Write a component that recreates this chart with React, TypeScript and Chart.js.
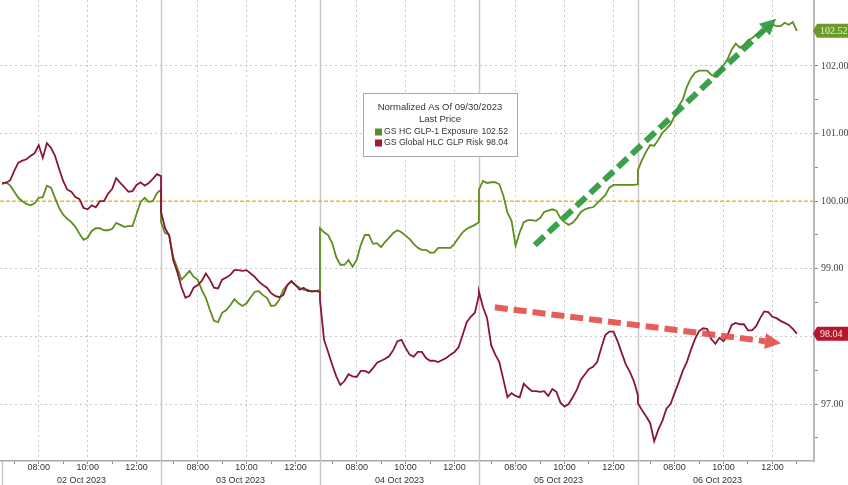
import React, { useEffect, useRef } from "react";
import { Chart, registerables } from "chart.js";

Chart.register(...registerables);

// ---- axis / time structure (trading minutes, session 06:30-13:00) ----
const SESSION = 390;
const OPEN_MIN = 390; // 06:30 in minutes after midnight
const STEP = 10; // minutes between samples
const X_MIN = -5;
const X_MAX = 1992;
const Y_MIN = 96.157;
const Y_MAX = 102.976;
const BASELINE = 100;

const dayLabels = ["02 Oct 2023", "03 Oct 2023", "04 Oct 2023", "05 Oct 2023", "06 Oct 2023"];
const hourTicks = [7, 8, 9, 10, 11, 12];
const labeledHours = [8, 10, 12];
const yTickValues = [96.5, 97, 97.5, 98, 98.5, 99, 99.5, 100, 100.5, 101, 101.5, 102, 102.5];

// ---- series values, one sample every 10 minutes from 06:30 to 13:00 ----
const greenOct02 = [100.25, 100.28, 100.23, 100.14, 100.05, 100.0, 99.96, 99.94, 99.97, 100.05, 100.06, 100.23, 100.2, 100.05, 99.9, 99.8, 99.74, 99.69, 99.62, 99.52, 99.43, 99.46, 99.56, 99.6, 99.6, 99.57, 99.57, 99.59, 99.68, 99.65, 99.62, 99.63, 99.63, 99.81, 99.99, 100.05, 99.99, 100.0, 100.12, 100.17];
const greenOct03 = [99.69, 99.53, 99.51, 99.17, 99.01, 98.84, 98.9, 98.97, 98.88, 98.84, 98.69, 98.57, 98.39, 98.23, 98.21, 98.35, 98.39, 98.46, 98.55, 98.49, 98.45, 98.49, 98.58, 98.66, 98.67, 98.61, 98.57, 98.45, 98.46, 98.54, 98.69, 98.76, 98.81, 98.76, 98.72, 98.69, 98.69, 98.66, 98.67, 98.69];
const greenOct04 = [99.6, 99.54, 99.5, 99.38, 99.17, 99.06, 99.06, 99.13, 99.03, 99.13, 99.35, 99.5, 99.5, 99.37, 99.38, 99.32, 99.4, 99.46, 99.53, 99.57, 99.54, 99.49, 99.44, 99.37, 99.31, 99.28, 99.28, 99.24, 99.24, 99.31, 99.31, 99.31, 99.31, 99.37, 99.46, 99.54, 99.59, 99.62, 99.65, 99.69];
const greenOct05 = [100.17, 100.3, 100.27, 100.28, 100.28, 100.25, 100.08, 99.83, 99.71, 99.34, 99.54, 99.69, 99.72, 99.72, 99.71, 99.75, 99.84, 99.86, 99.88, 99.86, 99.75, 99.69, 99.65, 99.68, 99.75, 99.84, 99.88, 99.9, 99.91, 99.97, 100.03, 100.09, 100.2, 100.24, 100.24, 100.24, 100.24, 100.24, 100.24, 100.25];
const greenOct06 = [100.46, 100.61, 100.73, 100.83, 100.82, 100.91, 101.01, 101.07, 101.14, 101.26, 101.41, 101.5, 101.69, 101.82, 101.9, 101.93, 101.93, 101.93, 101.87, 101.84, 101.91, 102.01, 102.1, 102.24, 102.33, 102.27, 102.31, 102.38, 102.41, 102.46, 102.49, 102.52, 102.58, 102.61, 102.59, 102.59, 102.64, 102.61, 102.65, 102.52];

const redOct02 = [100.27, 100.27, 100.31, 100.45, 100.57, 100.6, 100.62, 100.67, 100.71, 100.83, 100.64, 100.86, 100.79, 100.67, 100.48, 100.3, 100.17, 100.14, 100.06, 100.03, 99.9, 99.88, 99.94, 99.91, 100.0, 100.0, 100.11, 100.18, 100.34, 100.27, 100.21, 100.14, 100.15, 100.24, 100.28, 100.23, 100.27, 100.33, 100.4, 100.37];
const redOct03 = [99.84, 99.6, 99.49, 99.13, 98.95, 98.73, 98.57, 98.6, 98.72, 98.76, 98.82, 98.93, 98.84, 98.72, 98.71, 98.84, 98.87, 98.91, 98.98, 98.98, 98.97, 98.98, 98.93, 98.88, 98.81, 98.76, 98.72, 98.64, 98.6, 98.58, 98.61, 98.76, 98.82, 98.76, 98.69, 98.72, 98.67, 98.67, 98.67, 98.66];
const redOct04 = [98.54, 97.95, 97.77, 97.58, 97.41, 97.28, 97.34, 97.44, 97.41, 97.4, 97.49, 97.49, 97.46, 97.53, 97.61, 97.64, 97.67, 97.71, 97.8, 97.93, 97.95, 97.83, 97.73, 97.7, 97.77, 97.77, 97.68, 97.64, 97.64, 97.62, 97.65, 97.68, 97.73, 97.77, 97.84, 98.02, 98.21, 98.29, 98.35, 98.61];
const redOct05 = [98.66, 98.43, 98.27, 97.87, 97.73, 97.62, 97.36, 97.1, 97.16, 97.12, 97.1, 97.3, 97.24, 97.19, 97.19, 97.18, 97.19, 97.12, 97.22, 97.18, 97.02, 96.96, 97.0, 97.1, 97.21, 97.36, 97.44, 97.52, 97.55, 97.62, 97.83, 98.02, 98.07, 98.07, 97.93, 97.76, 97.59, 97.48, 97.34, 97.13];
const redOct06 = [97.01, 96.91, 96.82, 96.72, 96.45, 96.62, 96.75, 96.93, 97.0, 97.16, 97.32, 97.49, 97.62, 97.8, 97.96, 98.08, 98.12, 98.11, 97.96, 97.89, 97.98, 97.93, 98.02, 98.17, 98.2, 98.18, 98.18, 98.09, 98.09, 98.15, 98.27, 98.37, 98.36, 98.29, 98.27, 98.23, 98.2, 98.17, 98.11, 98.04];

const greenName = "GS HC GLP-1 Exposure";
const redName = "GS Global HLC GLP Risk";
const greenLast = "102.52";
const redLast = "98.04";
const legendTitle = "Normalized As Of 09/30/2023";
const legendSub = "Last Price";

// trend arrows in data units: [trading minute, value]
const greenTrendFrom = [1307, 99.35];
const greenTrendTo = [1899, 102.7];
const redTrendFrom = [1209, 98.43];
const redTrendTo = [1911, 97.9];

const GREEN = "#5e8e1e";
const RED = "#8a1538";

// ---- derived tick tables ----
const xTickValues: number[] = [];
const xTickLabels: string[] = [];
dayLabels.forEach((_, d) => {
  const hours = d === dayLabels.length - 1 ? [...hourTicks, 13] : hourTicks;
  hours.forEach((h) => {
    xTickValues.push(d * SESSION + (h * 60 - OPEN_MIN));
    xTickLabels.push(labeledHours.includes(h) ? `${String(h).padStart(2, "0")}:00` : "");
  });
});
const dayCenters = dayLabels.map((_, d) => d * SESSION + SESSION / 2);
const dayBounds = dayLabels.map((_, d) => d * SESSION);

const toPoints = (days: number[][]) =>
  days.flatMap((vals, d) => vals.map((v, k) => ({ x: d * SESSION + k * STEP, y: v })));

function drawArrow(ctx: CanvasRenderingContext2D, x1: number, y1: number, x2: number, y2: number, color: string) {
  const ang = Math.atan2(y2 - y1, x2 - x1);
  const headLen = 16;
  const headW = 8;
  const bx = x2 - headLen * Math.cos(ang);
  const by = y2 - headLen * Math.sin(ang);
  ctx.save();
  ctx.globalAlpha = 0.92;
  ctx.strokeStyle = color;
  ctx.lineWidth = 6;
  ctx.setLineDash([13, 6]);
  ctx.beginPath();
  ctx.moveTo(x1, y1);
  ctx.lineTo(bx, by);
  ctx.stroke();
  ctx.setLineDash([]);
  ctx.fillStyle = color;
  ctx.beginPath();
  ctx.moveTo(x2, y2);
  ctx.lineTo(bx + headW * Math.sin(ang), by - headW * Math.cos(ang));
  ctx.lineTo(bx - headW * Math.sin(ang), by + headW * Math.cos(ang));
  ctx.closePath();
  ctx.fill();
  ctx.restore();
}

function drawValueBox(ctx: CanvasRenderingContext2D, left: number, right: number, y: number, bg: string, fg: string, text: string) {
  const h = 14;
  ctx.save();
  ctx.fillStyle = bg;
  ctx.beginPath();
  ctx.moveTo(left, y);
  ctx.lineTo(left + 4, y - h / 2);
  ctx.lineTo(right, y - h / 2);
  ctx.lineTo(right, y + h / 2);
  ctx.lineTo(left + 4, y + h / 2);
  ctx.closePath();
  ctx.fill();
  ctx.fillStyle = fg;
  ctx.font = '10px "Liberation Serif"';
  ctx.textAlign = "left";
  ctx.textBaseline = "middle";
  ctx.fillText(text, left + 7, y + 0.5);
  ctx.restore();
}

const annotPlugin = {
  id: "annot",
  beforeDraw(chart: any) {
    const { ctx, width, height } = chart;
    ctx.save();
    ctx.fillStyle = "#ffffff";
    ctx.fillRect(0, 0, width, height);
    ctx.restore();
  },
  beforeDatasetsDraw(chart: any) {
    const { ctx, chartArea, scales, height } = chart;
    const xs = scales.x;
    const ys = scales.y;
    ctx.save();
    ctx.strokeStyle = "#c9c9c9";
    ctx.lineWidth = 1.5;
    dayBounds.forEach((t, d) => {
      const px = Math.round(xs.getPixelForValue(t)) + 0.5;
      ctx.beginPath();
      ctx.moveTo(px, d === 0 ? chartArea.bottom : chartArea.top);
      ctx.lineTo(px, height);
      ctx.stroke();
    });
    const py = ys.getPixelForValue(BASELINE);
    ctx.strokeStyle = "#e9bd1c";
    ctx.lineWidth = 1.5;
    ctx.setLineDash([4, 2]);
    ctx.beginPath();
    ctx.moveTo(chartArea.left, py);
    ctx.lineTo(chartArea.right, py);
    ctx.stroke();
    ctx.restore();
  },
  afterDatasetsDraw(chart: any) {
    const { ctx, scales, chartArea, width } = chart;
    const xs = scales.x;
    const ys = scales.y;
    const P = (p: number[]) => [xs.getPixelForValue(p[0]), ys.getPixelForValue(p[1])];
    const g1 = P(greenTrendFrom), g2 = P(greenTrendTo);
    const r1 = P(redTrendFrom), r2 = P(redTrendTo);
    drawArrow(ctx, r1[0], r1[1], r2[0], r2[1], "#e4504c");
    drawArrow(ctx, g1[0], g1[1], g2[0], g2[1], "#2a9a3c");

    // legend box
    ctx.save();
    const bx = 363, by = 93, bw = 154, bh = 63;
    ctx.fillStyle = "#ffffff";
    ctx.fillRect(bx, by, bw, bh);
    ctx.strokeStyle = "#a9a9a9";
    ctx.lineWidth = 1;
    ctx.strokeRect(bx + 0.5, by + 0.5, bw, bh);
    ctx.fillStyle = "#333333";
    ctx.textBaseline = "middle";
    ctx.textAlign = "center";
    ctx.font = '9.5px "Liberation Sans"';
    ctx.fillText(legendTitle, bx + bw / 2, by + 14);
    ctx.fillText(legendSub, bx + bw / 2, by + 26);
    ctx.font = '8.7px "Liberation Sans"';
    const rows = [
      { c: "#5a8a22", name: greenName, val: greenLast, y: by + 39 },
      { c: "#a11a32", name: redName, val: redLast, y: by + 50 },
    ];
    rows.forEach((r) => {
      ctx.fillStyle = r.c;
      ctx.fillRect(bx + 12, r.y - 3.5, 7, 7);
      ctx.fillStyle = "#333333";
      ctx.textAlign = "left";
      ctx.fillText(r.name, bx + 21, r.y);
      ctx.textAlign = "right";
      ctx.fillText(r.val, bx + bw - 9, r.y);
    });
    ctx.restore();

    drawValueBox(ctx, chartArea.right - 1, width, ys.getPixelForValue(parseFloat(greenLast)), "#6a9a2a", "#eef3c4", greenLast);
    drawValueBox(ctx, chartArea.right - 1, width, ys.getPixelForValue(parseFloat(redLast)), "#b5172c", "#ffe9e9", redLast);
  },
};

export default function App() {
  const ref = useRef<HTMLCanvasElement>(null);
  useEffect(() => {
    if (!ref.current) return;
    const chart = new Chart(ref.current, {
      type: "line",
      data: {
        datasets: [
          {
            label: redName,
            data: toPoints([redOct02, redOct03, redOct04, redOct05, redOct06]),
            borderColor: RED,
            borderWidth: 1.8,
            pointRadius: 0,
            tension: 0,
          },
          {
            label: greenName,
            data: toPoints([greenOct02, greenOct03, greenOct04, greenOct05, greenOct06]),
            borderColor: GREEN,
            borderWidth: 1.8,
            pointRadius: 0,
            tension: 0,
          },
        ],
      },
      options: {
        animation: false,
        responsive: false,
        devicePixelRatio: 1,
        layout: { padding: 0 },
        plugins: { legend: { display: false }, tooltip: { enabled: false } },
        scales: {
          x: {
            type: "linear",
            position: "bottom",
            weight: 0,
            min: X_MIN,
            max: X_MAX,
            afterBuildTicks: (s: any) => {
              s.ticks = xTickValues.map((v) => ({ value: v }));
            },
            afterFit: (s: any) => {
              s.height = 12;
              s.paddingLeft = 0;
              s.paddingRight = 0;
            },
            ticks: {
              autoSkip: false,
              maxRotation: 0,
              padding: -2,
              color: "#333",
              font: { family: "Liberation Sans", size: 9 },
              callback: (_v: any, i: number) => xTickLabels[i],
            },
            grid: {
              color: (c: any) => (xTickLabels[c.index] ? "#c8c8c8" : "rgba(0,0,0,0)"),
              tickColor: "#8a8a8a",
              tickLength: 3,
              lineWidth: 1,
            },
            border: { display: true, color: "#a8a8a8", width: 1.5, dash: [2, 3] },
          },
          xDate: {
            type: "linear",
            axis: "x",
            position: "bottom",
            weight: 1,
            min: X_MIN,
            max: X_MAX,
            afterBuildTicks: (s: any) => {
              s.ticks = dayCenters.map((v) => ({ value: v }));
            },
            afterFit: (s: any) => {
              s.height = 12;
              s.paddingLeft = 0;
              s.paddingRight = 0;
            },
            ticks: {
              autoSkip: false,
              maxRotation: 0,
              padding: 2,
              color: "#333",
              font: { family: "Liberation Sans", size: 9 },
              callback: (_v: any, i: number) => dayLabels[i],
            },
            grid: { display: false, drawTicks: false },
            border: { display: false },
          },
          y: {
            type: "linear",
            position: "right",
            min: Y_MIN,
            max: Y_MAX,
            afterBuildTicks: (s: any) => {
              s.ticks = yTickValues.map((v) => ({ value: v }));
            },
            afterFit: (s: any) => {
              s.width = 34;
              s.paddingTop = 0;
              s.paddingBottom = 0;
            },
            ticks: {
              padding: 3,
              color: "#444",
              font: { family: "Liberation Serif", size: 10 },
              callback: (v: any) => (Number.isInteger(v) ? Number(v).toFixed(2) : ""),
            },
            grid: {
              color: (c: any) => {
                const v = c.tick ? c.tick.value : NaN;
                return Number.isInteger(v) && v !== BASELINE ? "#c8c8c8" : "rgba(0,0,0,0)";
              },
              tickColor: "#8a8a8a",
              tickLength: 4,
              lineWidth: 1,
            },
            border: { display: true, color: "#b8b8b8", width: 2, dash: [2, 3] },
          },
        },
      } as any,
      plugins: [annotPlugin],
    });
    return () => chart.destroy();
  }, []);
  return (
    <div style={{ position: "fixed", left: 0, top: 0, width: 848, height: 485, background: "#fff" }}>
      <canvas ref={ref} width={848} height={485} style={{ display: "block", width: 848, height: 485 }} />
    </div>
  );
}
